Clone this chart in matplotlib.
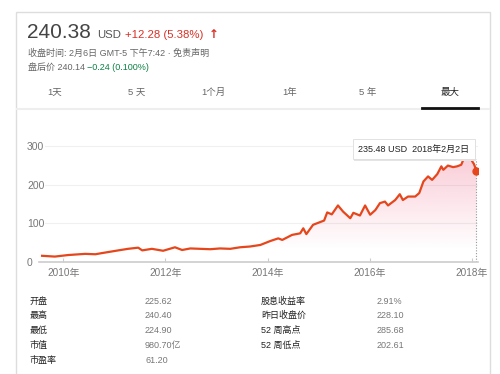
import numpy as np
import pandas as pd
import matplotlib
matplotlib.use("Agg")
import matplotlib.pyplot as plt
import matplotlib.dates as mdates
from matplotlib.patches import Rectangle

plt.rcParams['font.family'] = ['Liberation Sans', 'Noto Sans CJK SC', 'DejaVu Sans']

# 股价数据
dates = ['2009-08-03', '2009-11-02', '2010-02-06', '2010-06-07', '2010-08-19', '2010-10-05',
         '2011-01-30', '2011-04-09', '2011-06-21', '2011-07-20', '2011-09-27', '2011-12-16',
         '2012-03-10', '2012-04-30', '2012-06-28', '2012-11-17', '2013-01-26', '2013-04-09',
         '2013-06-18', '2013-08-29', '2013-11-10', '2014-01-19', '2014-03-18', '2014-04-16',
         '2014-06-25', '2014-08-22', '2014-09-13', '2014-10-05', '2014-11-22', '2015-01-11',
         '2015-02-09', '2015-03-03', '2015-04-05', '2015-05-19', '2015-06-25', '2015-08-15',
         '2015-09-06', '2015-10-23', '2015-11-29', '2016-01-04', '2016-02-10', '2016-03-14',
         '2016-04-19', '2016-05-11', '2016-07-01', '2016-08-03', '2016-08-25', '2016-10-01',
         '2016-11-21', '2016-12-20', '2017-01-19', '2017-02-21', '2017-03-22', '2017-04-28',
         '2017-05-27', '2017-06-10', '2017-07-13', '2017-08-19', '2017-09-17', '2017-10-16',
         '2017-10-31', '2017-11-22', '2017-12-14', '2018-01-01', '2018-01-15', '2018-02-02']
prices = [16, 14, 18, 21, 20, 23,
          30, 34, 37, 30, 34, 29,
          38, 31, 35, 33, 35, 34,
          38, 40, 44, 54, 61, 57,
          70, 74, 87, 72, 96, 103,
          107, 128, 123, 146, 130, 113,
          127, 120, 146, 122, 134, 152,
          156, 146, 160, 175, 160, 169,
          169, 178, 208, 221, 212, 227,
          247, 238, 249, 245, 247, 251,
          264, 280, 284, 261, 253, 235.48]

yticks = [0, 100, 200, 300]
xtick_years = [2010, 2012, 2014, 2016, 2018]
tabs = ['1天', '5 天', '1个月', '1年', '5 年', '最大']
tab_x = [55, 137, 213, 290, 368, 450]
stats_left = [('开盘', '225.62'), ('最高', '240.40'), ('最低', '224.90'),
              ('市值', '980.70亿'), ('市盈率', '61.20')]
stats_right = [('股息收益率', '2.91%'), ('昨日收盘价', '228.10'),
               ('52 周高点', '285.68'), ('52 周低点', '202.61')]

W, H = 500, 374
LINE = '#e6461b'
fig = plt.figure(figsize=(W / 100, H / 100), dpi=100)


def fx(x):
    return x / W


def fy(y):
    return 1 - y / H


def ftext(x, y, s, **kw):
    kw.setdefault('va', 'center')
    fig.text(fx(x), fy(y), s, **kw)


# 卡片边框
fig.add_artist(Rectangle((fx(16), fy(380)), fx(490) - fx(16), fy(12) - fy(380),
                         transform=fig.transFigure, fill=False, ec='#dddddd', lw=1))

# 顶部报价
ftext(27, 33, '240.38', fontsize=15, color='#444444')
ftext(97, 35.5, 'USD', fontsize=8.2, color='#555555')
ftext(125, 35.5, '+12.28 (5.38%)', fontsize=8.2, color='#d93025')
ftext(209, 35, '↑', fontsize=8.5, color='#d93025', fontweight='bold', family='DejaVu Sans')
ftext(28, 53, '收盘时间: 2月6日 GMT-5 下午7:42 · 免责声明', fontsize=6.5, color='#666666')
ftext(28, 67, '盘后价 240.14', fontsize=6.5, color='#666666')
ftext(87, 67, '−0.24 (0.100%)', fontsize=6.5, color='#0b8043')

# 标签页
for t, x in zip(tabs, tab_x):
    ftext(x, 92, t, fontsize=6.8, ha='center',
          color='#222222' if t == '最大' else '#666666')
fig.add_artist(plt.Line2D([fx(17), fx(489)], [fy(109), fy(109)], color='#eeeeee', lw=1.5))
fig.add_artist(plt.Line2D([fx(422), fx(478)], [fy(108), fy(108)], color='#111111', lw=2))

# 图表
x = pd.to_datetime(dates)
ax = fig.add_axes([fx(39), fy(262), fx(478) - fx(39), fy(140) - fy(262)])
ax.set_xlim(pd.Timestamp('2009-07-12'), pd.Timestamp('2018-02-13'))
ax.set_ylim(0, 315)
for v in yticks[1:]:
    ax.axhline(v, xmin=(45 - 39) / 439, color='#f0f0f0', lw=0.8, zorder=0)

# 渐变填充
poly = ax.fill_between(x, prices, 0, facecolor='none', edgecolor='none')
grad = np.zeros((256, 1, 4))
vals = np.linspace(315, 0, 256)
grad[:, 0, 0] = 233 / 255
grad[:, 0, 1] = 30 / 255
grad[:, 0, 2] = 79 / 255
grad[:, 0, 3] = np.clip((vals - 30) / 270, 0, 1) * 0.25
xl = ax.get_xlim()
im = ax.imshow(grad, extent=[xl[0], xl[1], 0, 315], aspect='auto', origin='upper', zorder=1)
im.set_clip_path(poly.get_paths()[0], ax.transData)

ax.plot(x, prices, color=LINE, lw=1.6, zorder=3, solid_joinstyle='round')
ax.plot([x[-1], x[-1]], [0, 266], color='#999999', lw=0.8, ls=(0, (1, 1.5)), zorder=2)
ax.plot(x[-1], prices[-1], 'o', color=LINE, ms=5, zorder=4)

for s in ['top', 'right', 'left']:
    ax.spines[s].set_visible(False)
ax.spines['bottom'].set_color('#cccccc')
ax.spines['bottom'].set_linewidth(1.2)
ax.set_yticks(yticks)
ax.set_yticklabels([str(v) for v in yticks])
for lab in ax.get_yticklabels():
    lab.set_ha('left')
ax.tick_params(axis='y', length=0, pad=8.6, labelsize=7.5, labelcolor='#777777')
ax.set_xticks([pd.Timestamp(f'{y}-01-01') for y in xtick_years])
ax.set_xticklabels([f'{y}年' for y in xtick_years])
ax.tick_params(axis='x', direction='in', length=3, color='#cccccc', pad=4,
               labelsize=7.2, labelcolor='#777777')

# 提示框
fig.add_artist(Rectangle((fx(354), fy(160.5)), fx(476) - fx(354), fy(140) - fy(160.5),
                         transform=fig.transFigure, fc='#e4e4e4', ec='none'))
fig.add_artist(Rectangle((fx(353), fy(159)), fx(475) - fx(353), fy(139) - fy(159),
                         transform=fig.transFigure, fc='white', ec='#dddddd', lw=0.6))
ftext(414, 149, '235.48 USD  2018年2月2日', fontsize=6.5, ha='center', color='#222222')

# 统计表
row_y = [301, 315.5, 330.5, 345.5, 360.5]
for (k, v), y in zip(stats_left, row_y):
    ftext(30, y, k, fontsize=6.5, color='#222222')
    ftext(145, y, v, fontsize=6.5, color='#777777')
for (k, v), y in zip(stats_right, row_y):
    ftext(261, y, k, fontsize=6.5, color='#222222')
    ftext(377, y, v, fontsize=6.5, color='#777777')

fig.savefig('out.png', dpi=100)
